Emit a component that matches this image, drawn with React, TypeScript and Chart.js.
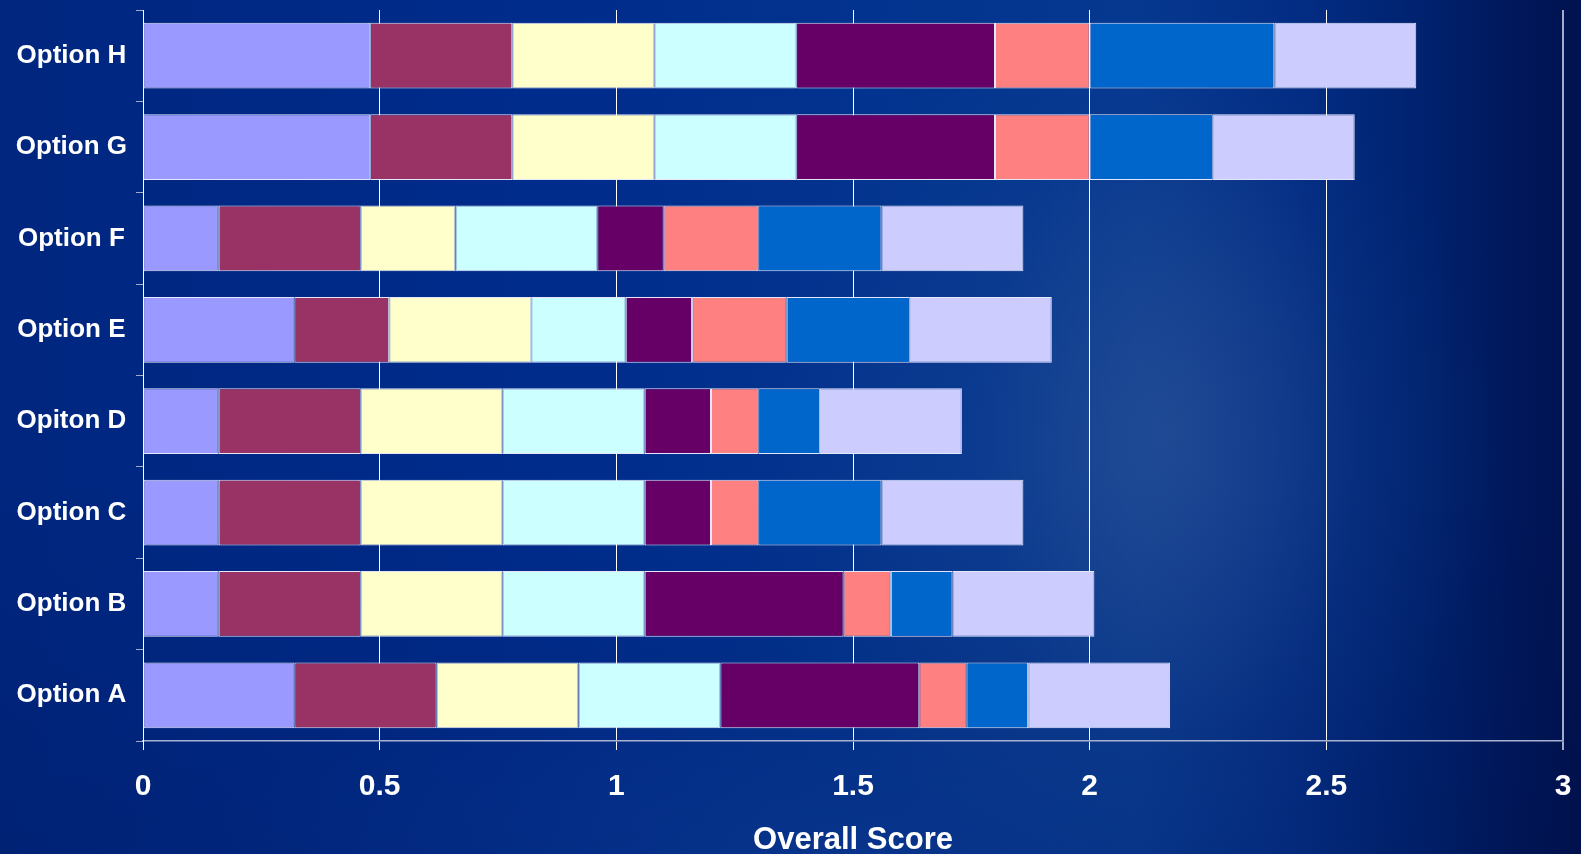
import React, { useEffect, useRef } from "react";
import { Chart, registerables } from "chart.js";

Chart.register(...registerables);

// Options, listed bottom to top
const categories = ["Option A", "Option B", "Option C", "Opiton D", "Option E", "Option F", "Option G", "Option H"];

// Weighted criterion scores per option (same order as categories)
const criterion1 = [0.32, 0.16, 0.16, 0.16, 0.32, 0.16, 0.48, 0.48];
const criterion2 = [0.3, 0.3, 0.3, 0.3, 0.2, 0.3, 0.3, 0.3];
const criterion3 = [0.3, 0.3, 0.3, 0.3, 0.3, 0.2, 0.3, 0.3];
const criterion4 = [0.3, 0.3, 0.3, 0.3, 0.2, 0.3, 0.3, 0.3];
const criterion5 = [0.42, 0.42, 0.14, 0.14, 0.14, 0.14, 0.42, 0.42];
const criterion6 = [0.1, 0.1, 0.1, 0.1, 0.2, 0.2, 0.2, 0.2];
const criterion7 = [0.13, 0.13, 0.26, 0.13, 0.26, 0.26, 0.26, 0.39];
const criterion8 = [0.3, 0.3, 0.3, 0.3, 0.3, 0.3, 0.3, 0.3];

const seriesNames = ["Criterion 1", "Criterion 2", "Criterion 3", "Criterion 4", "Criterion 5", "Criterion 6", "Criterion 7", "Criterion 8"];
const seriesValues = [criterion1, criterion2, criterion3, criterion4, criterion5, criterion6, criterion7, criterion8];
const seriesColors = ["#9999FF", "#993366", "#FFFFCC", "#CCFFFF", "#660066", "#FF8080", "#0066CC", "#CCCCFF"];

const xTicks = [0, 0.5, 1, 1.5, 2, 2.5, 3];
const axisTitle = "Overall Score";

const FONT = "'Liberation Sans', Arial, Helvetica, sans-serif";

export default function App() {
  const canvasRef = useRef<HTMLCanvasElement | null>(null);

  useEffect(() => {
    document.body.style.margin = "0";
    const canvas = canvasRef.current;
    if (!canvas) return;

    const chart = new Chart(canvas, {
      type: "bar",
      data: {
        labels: categories,
        datasets: seriesNames.map((name, i) => ({
          label: name,
          data: seriesValues[i],
          backgroundColor: seriesColors[i],
          borderColor: "rgba(240,240,255,0.95)",
          borderWidth: 1,
          borderSkipped: false,
          categoryPercentage: 0.8,
          barPercentage: 0.9,
        })),
      },
      options: {
        indexAxis: "y",
        animation: false,
        responsive: true,
        maintainAspectRatio: false,
        layout: { padding: { top: 10, right: 18, left: 0, bottom: 0 } },
        plugins: {
          legend: { display: false },
          tooltip: { enabled: false },
        },
        scales: {
          x: {
            type: "linear",
            stacked: true,
            min: 0,
            max: 3,
            afterBuildTicks: (scale: any) => {
              scale.ticks = xTicks.map((v) => ({ value: v }));
            },
            afterFit: (scale: any) => {
              scale.height = 113;
              scale.paddingLeft = 0;
              scale.paddingRight = 0;
            },
            grid: {
              color: (ctx: any) => (ctx.index === xTicks.length - 1 ? "#a3abc8" : "#ffffff"),
              lineWidth: (ctx: any) => (ctx.index === xTicks.length - 1 ? 2 : 1),
              tickLength: 9,
              drawTicks: true,
            },
            border: { display: true, color: "#a8b2d0", width: 1.5 },
            ticks: {
              color: "#ffffff",
              font: { family: FONT, size: 30, weight: "bold" },
              padding: 19,
              maxRotation: 0,
              callback: (v: any) => String(v),
            },
            title: {
              display: true,
              text: axisTitle,
              color: "#ffffff",
              font: { family: FONT, size: 31, weight: "bold", lineHeight: 1 },
              padding: { top: 0, bottom: -2 },
            },
          },
          y: {
            type: "category",
            stacked: true,
            reverse: true,
            afterFit: (scale: any) => {
              scale.width = 143;
              scale.paddingTop = 0;
              scale.paddingBottom = 0;
            },
            grid: {
              offset: true,
              drawOnChartArea: false,
              drawTicks: true,
              tickLength: 7,
              color: "#a3abc8",
            },
            border: { display: true, color: "#ffffff", width: 1 },
            ticks: {
              color: "#ffffff",
              font: { family: FONT, size: 26, weight: "bold" },
              crossAlign: "center",
              padding: 9,
            },
          },
        },
      },
    });

    return () => chart.destroy();
  }, []);

  const background = [
    "radial-gradient(ellipse 190px 330px at 1170px 430px, rgba(60,95,155,0.35), rgba(60,95,155,0) 100%)",
    "radial-gradient(ellipse 380px 420px at 1120px 450px, rgba(35,75,145,0.4), rgba(35,75,145,0) 100%)",
    "radial-gradient(ellipse 600px 200px at 800px 860px, rgba(20,70,160,0.3), rgba(20,70,160,0) 100%)",
    "linear-gradient(to bottom, rgba(0,10,60,0) 55%, rgba(0,10,60,0.15) 100%)",
    "linear-gradient(to right, #00267f 0%, #002c8c 35%, #03358f 60%, #063890 72%, #032d84 82%, #00226f 90%, #00175a 96%, #00124f 100%)",
  ].join(", ");

  return (
    <div
      style={{
        position: "fixed",
        left: 0,
        top: 0,
        width: "1581px",
        height: "854px",
        background,
      }}
    >
      <canvas ref={canvasRef} />
    </div>
  );
}
